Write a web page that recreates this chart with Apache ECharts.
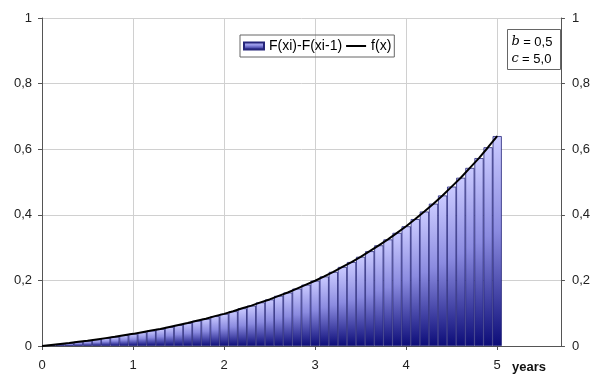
<!DOCTYPE html>
<html><head><meta charset="utf-8">
<script src="https://cdn.jsdelivr.net/npm/echarts@6/dist/echarts.min.js"></script>
<style>html,body{margin:0;padding:0;background:#fff}#c{width:593px;height:374px}</style>
</head><body><div id="c"></div>
<script>
// x positions (years) of each bar / curve point
const xValues = [0.1,0.2,0.3,0.4,0.5,0.6,0.7,0.8,0.9,1.0,1.1,1.2,1.3,1.4,1.5,1.6,1.7,1.8,1.9,2.0,2.1,2.2,2.3,2.4,2.5,2.6,2.7,2.8,2.9,3.0,3.1,3.2,3.3,3.4,3.5,3.6,3.7,3.8,3.9,4.0,4.1,4.2,4.3,4.4,4.5,4.6,4.7,4.8,4.9,5.0];
// F(xi)-F(xi-1) bar heights
const barValues = [0.003,0.006,0.009,0.013,0.016,0.020,0.024,0.028,0.033,0.037,0.042,0.047,0.052,0.058,0.064,0.070,0.077,0.083,0.091,0.098,0.106,0.115,0.123,0.133,0.142,0.153,0.163,0.175,0.187,0.199,0.212,0.226,0.241,0.256,0.272,0.289,0.307,0.325,0.345,0.365,0.387,0.410,0.434,0.459,0.486,0.513,0.543,0.573,0.606,0.640];
// f(x) curve values (starting at x = 0)
const curveX = [0].concat(xValues);
const curveValues = [0,0.003,0.006,0.009,0.013,0.016,0.020,0.024,0.028,0.033,0.037,0.042,0.047,0.052,0.058,0.064,0.070,0.077,0.083,0.091,0.098,0.106,0.115,0.123,0.133,0.142,0.153,0.163,0.175,0.187,0.199,0.212,0.226,0.241,0.256,0.272,0.289,0.307,0.325,0.345,0.365,0.387,0.410,0.434,0.459,0.486,0.513,0.543,0.573,0.606,0.640];
const xTicks = ['0','1','2','3','4','5'];
const yTicks = ['0','0,2','0,4','0,6','0,8','1'];
const seriesNames = ['F(xi)-F(xi-1)', 'f(x)'];

const chart = echarts.init(document.getElementById('c'));
const font = 'Liberation Sans, Arial, sans-serif';
const axisCol = '#555';
const fmtY = v => yTicks[Math.round(v / 0.2)] || '';
chart.setOption({
  animation: false,
  grid: {left: 42, right: 26, top: 18, bottom: 28},
  legend: {
    left: 240, top: 35, orient: 'horizontal',
    borderColor: '#666', borderWidth: 1, padding: [4, 3, 4, 3], itemGap: 4,
    itemWidth: 20, itemHeight: 7,
    textStyle: {fontFamily: font, fontSize: 14, color: '#000'},
    data: [
      {name: seriesNames[0], icon: 'rect'},
      {name: seriesNames[1], icon: 'path://M0,0 H20 V2 H0 Z'}
    ]
  },
  xAxis: {
    type: 'value', min: 0, max: 5.7, interval: 1,
    axisLine: {show: true, lineStyle: {color: axisCol, width: 1}},
    axisTick: {show: true, length: 4, lineStyle: {color: axisCol}},
    axisLabel: {
      fontFamily: font, fontSize: 13, color: '#222', margin: 13,
      showMaxLabel: false,
      formatter: v => xTicks[Math.round(v)] !== undefined && Math.abs(v - Math.round(v)) < 1e-6 ? xTicks[Math.round(v)] : ''
    },
    splitLine: {show: true, lineStyle: {color: '#d0d0d0', width: 1}}
  },
  yAxis: [{
    type: 'value', min: 0, max: 1, interval: 0.2, position: 'left',
    axisLine: {show: true, lineStyle: {color: axisCol, width: 1}},
    axisTick: {show: true, length: 4, lineStyle: {color: axisCol}},
    axisLabel: {fontFamily: font, fontSize: 13, color: '#222', margin: 10, formatter: fmtY},
    splitLine: {show: true, lineStyle: {color: '#d0d0d0', width: 1}}
  }, {
    type: 'value', min: 0, max: 1, interval: 0.2, position: 'right',
    axisLine: {show: true, lineStyle: {color: axisCol, width: 1}},
    axisTick: {show: true, length: 4, lineStyle: {color: axisCol}},
    axisLabel: {fontFamily: font, fontSize: 13, color: '#222', margin: 11, formatter: fmtY},
    splitLine: {show: false}
  }],
  series: [{
    name: seriesNames[0], type: 'bar', barWidth: 9.2,
    data: xValues.map((x, i) => [x, barValues[i]]),
    itemStyle: {
      color: new echarts.graphic.LinearGradient(0, 0, 0, 1, [
        {offset: 0, color: '#cacaff'},
        {offset: 0.45, color: '#8b8be0'},
        {offset: 1, color: '#0c0c78'}
      ]),
      borderColor: '#25257a', borderWidth: 0.8
    }
  }, {
    name: seriesNames[1], type: 'line', symbol: 'none', smooth: false,
    data: curveX.map((x, i) => [x, curveValues[i]]),
    lineStyle: {color: '#000', width: 2},
    itemStyle: {color: '#000'},
    z: 5
  }],
  graphic: [{
    type: 'text', left: 512, top: 361,
    style: {text: 'years', fontFamily: font, fontSize: 13, fontWeight: 'bold', fill: '#111'}
  }, {
    type: 'group', left: 507, top: 29,
    children: [{
      type: 'rect', shape: {x: 0, y: 0, width: 53, height: 40},
      style: {fill: '#fff', stroke: '#666', lineWidth: 1}
    }, {
      type: 'text', left: 4, top: 4,
      style: {
        text: '{i|b} {n|= 0,5}\n{i|c} {n|= 5,0}',
        lineHeight: 17,
        rich: {
          i: {fontFamily: 'DejaVu Serif, Liberation Serif, serif', fontStyle: 'italic', fontSize: 13, fill: '#000'},
          n: {fontFamily: font, fontSize: 13, fill: '#000'}
        }
      }
    }]
  }]
});
</script></body></html>
